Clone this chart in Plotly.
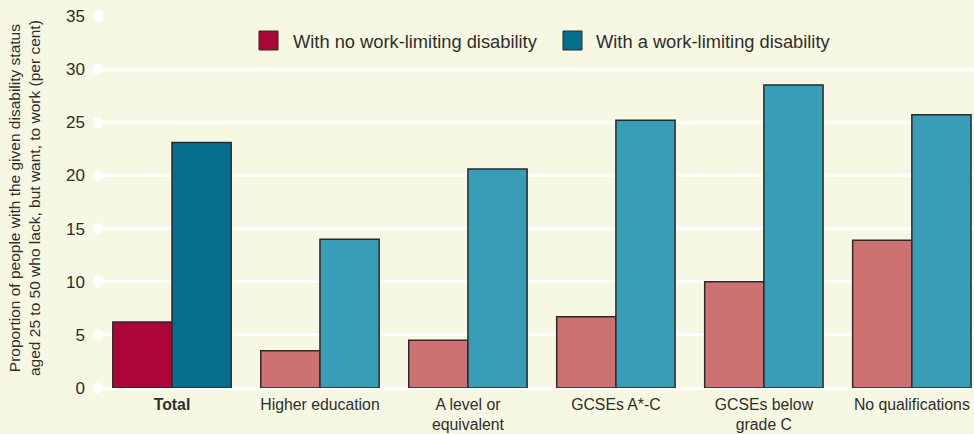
import plotly.graph_objects as go

categories = ["<b>Total</b>", "Higher education", "A level or<br>equivalent",
              "GCSEs A*-C", "GCSEs below<br>grade C", "No qualifications"]
no_disability = [6.2, 3.5, 4.5, 6.7, 10.0, 13.9]
with_disability = [23.1, 14.0, 20.6, 25.2, 28.5, 25.7]
series_names = ["With no work-limiting disability", "With a work-limiting disability"]
y_ticks = [0, 5, 10, 15, 20, 25, 30, 35]

BG = "#F7F8E3"
TXT = "#2e2e2e"
RED_DARK, RED = "#AE0538", "#CE7171"
TEAL_DARK, TEAL = "#05708E", "#389EB8"
OUTLINE = "#2a2a2a"

x_idx = list(range(len(categories)))
x_min, x_max = -0.5, 5.42

fig = go.Figure()
fig.add_trace(go.Bar(
    x=x_idx, y=no_disability, name=series_names[0],
    marker=dict(color=[RED_DARK] + [RED] * (len(categories) - 1),
                line=dict(color=OUTLINE, width=1.5)),
    showlegend=False,
))
fig.add_trace(go.Bar(
    x=x_idx, y=with_disability, name=series_names[1],
    marker=dict(color=[TEAL_DARK] + [TEAL] * (len(categories) - 1),
                line=dict(color=OUTLINE, width=1.5)),
    showlegend=False,
))
# white dots at the left end of each gridline
fig.add_trace(go.Scatter(
    x=[x_min] * len(y_ticks), y=y_ticks, mode="markers",
    marker=dict(color="white", size=11, line=dict(width=0)), cliponaxis=False,
    hoverinfo="skip", showlegend=False,
))

L, T, W, H = 98, 16, 876, 372

def px(xp):
    return (xp - L) / W

def py(yp):
    return (T + H - yp) / H

# manual legend (swatches + text)
legend_items = [(259, 291, RED_DARK, series_names[0]), (563, 594, TEAL_DARK, series_names[1])]
for sx, tx, col, name in legend_items:
    fig.add_shape(type="rect", xref="paper", yref="paper",
                  x0=px(sx), x1=px(sx + 19), y0=py(50), y1=py(31),
                  fillcolor=col, line=dict(color=OUTLINE, width=1))
    fig.add_annotation(xref="paper", yref="paper", x=px(tx), y=py(41),
                       xanchor="left", yanchor="middle", text=name, showarrow=False,
                       font=dict(size=18.3, color=TXT))

fig.add_annotation(
    xref="paper", yref="paper", x=0, xshift=24 - L, y=py(198),
    xanchor="center", yanchor="middle", textangle=-90, showarrow=False,
    text="Proportion of people with the given disability status<br>aged 25 to 50 who lack, but want, to work (per cent)",
    font=dict(size=15.5, color=TXT),
)

fig.update_layout(
    width=974, height=434,
    margin=dict(l=L, r=974 - L - W, t=T, b=434 - T - H),
    paper_bgcolor=BG, plot_bgcolor=BG,
    barmode="group", bargap=0.2, bargroupgap=0,
    font=dict(family="Liberation Sans, Arial, sans-serif", color=TXT),
    showlegend=False,
)
fig.update_xaxes(
    range=[x_min, x_max], tickmode="array", tickvals=x_idx, ticktext=categories,
    showgrid=False, zeroline=False, showline=False, ticks="",
    tickfont=dict(size=15.8, color=TXT), ticklabelstandoff=5,
)
fig.update_yaxes(
    range=[0, 35], tickmode="array", tickvals=y_ticks,
    showgrid=True, gridcolor="white", gridwidth=2.5,
    zeroline=True, zerolinecolor="white", zerolinewidth=2.5,
    showline=False, ticks="", tickfont=dict(size=17, color=TXT),
    ticklabelstandoff=12,
)

fig.write_html(
    "out.html",
    config={"displayModeBar": False},
    post_script="document.body.style.margin='0';document.body.style.background='%s';" % BG,
)
